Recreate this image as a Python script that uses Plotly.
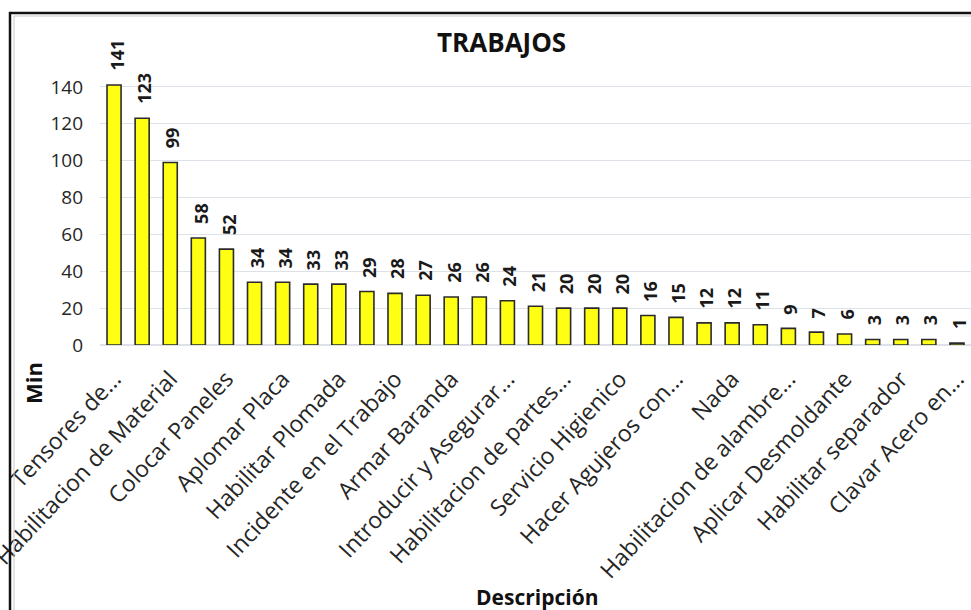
import plotly.graph_objects as go

# ---- data ----
values = [141, 123, 99, 58, 52, 34, 34, 33, 33, 29, 28, 27, 26, 26, 24, 21,
          20, 20, 20, 16, 15, 12, 12, 11, 9, 7, 6, 3, 3, 3, 1]
visible_labels = ["Tensores de...", "Habilitacion de Material", "Colocar Paneles",
                  "Aplomar Placa", "Habilitar Plomada", "Incidente en el Trabajo",
                  "Armar Baranda", "Introducir y Asegurar...", "Habilitacion de partes...",
                  "Servicio Higienico", "Hacer Agujeros con...", "Nada",
                  "Habilitacion de alambre...", "Aplicar Desmoldante",
                  "Habilitar separador", "Clavar Acero en..."]
y_ticks = [0, 20, 40, 60, 80, 100, 120, 140]

positions = list(range(1, len(values) + 1))
label_positions = positions[::2]

W, H = 971, 610
ML, MR, MT, MB = 100, 0, 50, 265
PW, PH = W - ML - MR, H - MT - MB


def px(xp):
    return (xp - ML) / PW


def py(yp):
    return (H - MB - yp) / PH


FONT = "Open Sans"

fig = go.Figure()
fig.add_trace(go.Bar(
    x=positions, y=values,
    marker=dict(color="#FFFF14", line=dict(color="#2b2b2b", width=1.6)),
    width=0.5,
))

for xv, v in zip(positions, values):
    fig.add_annotation(x=xv, y=v, text=f"<b>{v}</b>", textangle=-90,
                       showarrow=False, yanchor="bottom", xanchor="center",
                       yshift=12, xshift=2,
                       font=dict(family=FONT, size=18, color="#1a1a1a"))

fig.add_annotation(xref="paper", yref="paper", x=px(501), y=py(42),
                   text="<b>TRABAJOS</b>", showarrow=False,
                   xanchor="center", yanchor="middle",
                   font=dict(family=FONT, size=26, color="#111111"))
fig.add_annotation(xref="paper", yref="paper", x=px(537), y=py(597),
                   text="<b>Descripción</b>", showarrow=False,
                   xanchor="center", yanchor="middle",
                   font=dict(family=FONT, size=21, color="#111111"))
fig.add_annotation(xref="paper", yref="paper", x=px(33), y=py(383),
                   text="<b>Min</b>", showarrow=False, textangle=-90,
                   xanchor="center", yanchor="middle",
                   font=dict(family=FONT, size=22, color="#111111"))

# chart frame
fig.add_shape(type="line", xref="paper", yref="paper",
              x0=px(9), x1=px(975), y0=py(13), y1=py(13),
              line=dict(color="#111111", width=2.5))
fig.add_shape(type="line", xref="paper", yref="paper",
              x0=px(10), x1=px(10), y0=py(12), y1=py(620),
              line=dict(color="#111111", width=2.5))
fig.add_shape(type="line", xref="paper", yref="paper",
              x0=px(14), x1=px(14), y0=py(16), y1=py(620),
              line=dict(color="#c8c8c8", width=1))
fig.add_shape(type="line", xref="paper", yref="paper",
              x0=px(14), x1=px(975), y0=py(16), y1=py(16),
              line=dict(color="#c8c8c8", width=1))

fig.update_layout(
    width=W, height=H,
    margin=dict(l=ML, r=MR, t=MT, b=MB, autoexpand=False),
    paper_bgcolor="white", plot_bgcolor="white",
    showlegend=False, bargap=0.5,
    font=dict(family=FONT, color="#262626"),
)
fig.update_xaxes(
    range=[0.5, len(values) + 0.5],
    tickmode="array", tickvals=label_positions, ticktext=visible_labels,
    tickangle=-47, tickfont=dict(family=FONT, size=23, color="#262626"),
    showgrid=False, showline=False, zeroline=False, ticks="",
    ticklabelstandoff=15, ticklabeloverflow="allow", automargin=False,
)
fig.update_yaxes(
    range=[0, 160], tickmode="array", tickvals=y_ticks,
    tickfont=dict(family=FONT, size=19, color="#262626"),
    showgrid=True, gridcolor="#dde1e8", gridwidth=1,
    zeroline=True, zerolinecolor="#dde1e8", zerolinewidth=1.5,
    showline=False, ticks="", ticklabelstandoff=16, automargin=False,
)

fig.write_html("out.html")
